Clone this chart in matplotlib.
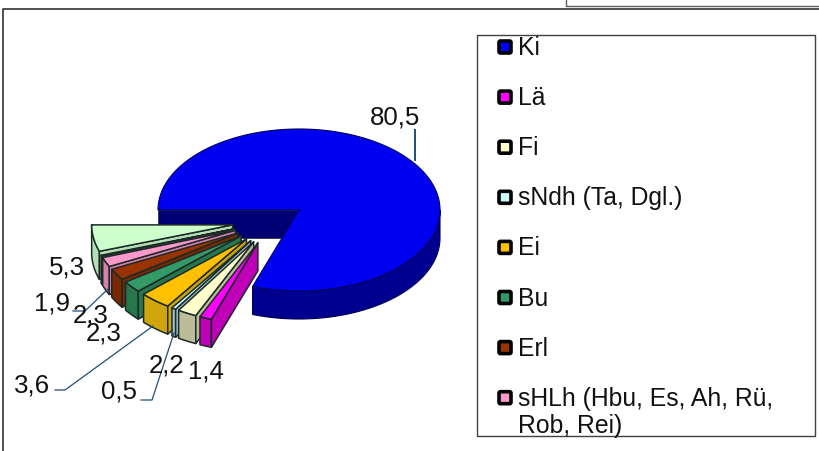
#!/usr/bin/env python3
"""
plot.py

Exploded 3D style pie, drawn by hand from patches in pixel coordinates.
"""

import matplotlib
matplotlib.use('Agg')
import matplotlib.pyplot as plt
import numpy as np

from matplotlib.patches import FancyBboxPatch, Polygon, Rectangle

plt.rcParams['font.family'] = ['Liberation Sans', 'DejaVu Sans']

# Slices, clockwise starting at 9 o'clock going over the top.
values = [80.5, 1.4, 2.2, 0.5, 3.6, 2.3, 2.3, 1.9, 0.2, 5.3]
top_colors = ['#0000f0', '#ff00ff', '#ffffcc', '#ccffff', '#ffc000',
              '#339966', '#993300', '#ff99cc', '#7f9f8f', '#ccffcc']
wall_colors = ['#000090', '#c000b8', '#bcbc98', '#a0c4cc', '#d0a40c',
               '#26774c', '#7a2800', '#d880ac', '#607868', '#b4e0b4']

legend_names = ['Ki', 'Lä', 'Fi', 'sNdh (Ta, Dgl.)', 'Ei', 'Bu', 'Erl',
                'sHLh (Hbu, Es, Ah, Rü,\nRob, Rei)']

# Data label text with its position in pixels.
label_texts = ['80,5', '1,4', '2,2', '0,5', '3,6', '2,3', '2,3', '1,9', '5,3']
label_x = [395, 206, 167, 119, 32, 104, 91, 52, 67]
label_y = [117, 371, 366, 392, 385, 334, 315, 304, 268]

RX, RY, DEPTH = 141, 81, 28
MAIN_C = (299, 210)
FAN_C = (273, 221)
EXPLODE = 0.29
EDGE = '#1c2a28'
LEADER = '#1f4e79'


def arc(cx, cy, a1, a2, drop=0):
    """Points on the ellipse between two angles given in degrees."""
    ang = np.radians(np.linspace(a1, a2, max(int(abs(a2 - a1)) * 2, 2)))
    return np.column_stack([cx + RX * np.cos(ang), cy - RY * np.sin(ang) + drop])


def add_poly(ax, pts, color, lw=1.1, edge=EDGE):
    ax.add_patch(Polygon(pts, closed=True, facecolor=color, edgecolor=edge,
                         lw=lw, joinstyle='round'))


def draw_main(ax, a_start, a_end):
    """Big slice: a_start is the 9 o'clock side, a_end the cut at lower left."""
    cx, cy = MAIN_C
    # inner wall under the 9 o'clock edge
    left = arc(cx, cy, a_start, a_start)[0]
    wall = [left, (cx, cy), (cx, cy + DEPTH), (left[0], cy + DEPTH)]
    add_poly(ax, wall, '#000073', lw=0.5)
    # outer wall
    rim = arc(cx, cy, 360, a_end)
    low = arc(cx, cy, a_end, 360, drop=DEPTH)
    add_poly(ax, np.vstack([rim, low]), wall_colors[0], lw=0.8, edge='#000050')
    # top
    top = np.vstack([[(cx, cy)], arc(cx, cy, a_start, a_end - 360)])
    add_poly(ax, top, top_colors[0], lw=0.8, edge='#000060')


def draw_slice(ax, a1, a2, top_c, wall_c):
    """Exploded small slice, a1 and a2 in degrees with a1 < a2."""
    mid = np.radians((a1 + a2) / 2)
    cx = FAN_C[0] + EXPLODE * RX * np.cos(mid)
    cy = FAN_C[1] - EXPLODE * RY * np.sin(mid)
    outer = arc(cx, cy, a1, a2)
    lower = arc(cx, cy, a2, a1, drop=DEPTH)
    add_poly(ax, np.vstack([outer, lower]), wall_c)
    end = outer[-1]
    side = [(cx, cy), end, (end[0], end[1] + DEPTH), (cx, cy + DEPTH)]
    add_poly(ax, side, wall_c)
    add_poly(ax, np.vstack([[(cx, cy)], outer]), top_c)


fig = plt.figure(figsize=(8.19, 4.51), dpi=100)
ax = fig.add_axes([0, 0, 1, 1])
ax.set_xlim(0, 819)
ax.set_ylim(451, 0)
ax.axis('off')

# Page rules around the chart.
ax.plot([2.5, 2.5, 819], [451, 8.5, 8.5], color='#202020', lw=1.1)
ax.plot([566, 566, 819], [0, 6, 6], color='#606060', lw=1.0)

# Work out the slice angles from the values.
total = sum(values)
sweeps = [v / total * 360 for v in values]
ki_end = 180 - sweeps[0] + 360
draw_main(ax, 180, ki_end)

# Painter's order: from the back (light green) to the front (Lä).
angle = 180
for idx in range(len(values) - 1, 0, -1):
    draw_slice(ax, angle, angle + sweeps[idx], top_colors[idx], wall_colors[idx])
    angle += sweeps[idx]

# Leader lines.
ax.plot([415, 415], [130, 160], color=LEADER, lw=1.4)
ax.plot([73, 85, 109], [311, 311, 288], color=LEADER, lw=0.9)
ax.plot([55, 65, 153], [390, 390, 326], color=LEADER, lw=0.9)
ax.plot([141, 152, 174], [400, 400, 333], color=LEADER, lw=0.9)

for txt, x, y in zip(label_texts, label_x, label_y):
    ax.text(x, y, txt, fontsize=18.6, color='#111111', ha='center', va='center')

# Legend box.
ax.add_patch(Rectangle((477, 35), 338, 401, facecolor='white',
                       edgecolor='#404040', lw=1.0, zorder=3))
legend_colors = ['#0000ff'] + top_colors[1:8]
for i, (name, col) in enumerate(zip(legend_names, legend_colors)):
    y = 47 + i * 50.1
    ax.add_patch(FancyBboxPatch((499, y - 6), 12, 12,
                                boxstyle='round,pad=0,rounding_size=1.5',
                                facecolor=col, edgecolor='black', lw=2.6,
                                zorder=4))
    ax.text(518, y - 11, name, fontsize=17.8, color='#111111', ha='left',
            va='top', linespacing=1.2, zorder=4)

fig.savefig('out.png', dpi=100)
